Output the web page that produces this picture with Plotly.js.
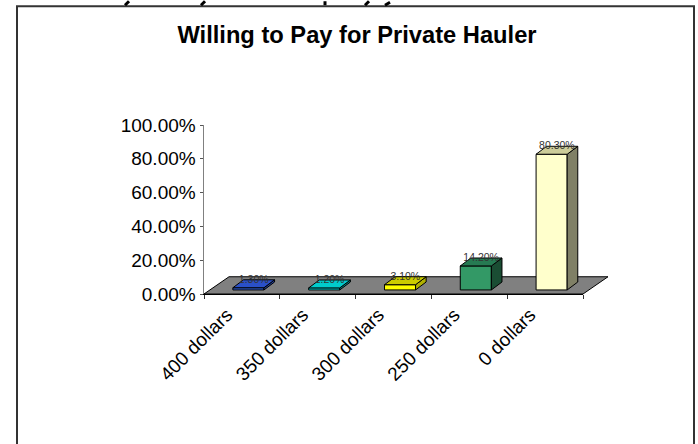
<!DOCTYPE html>
<html><head><meta charset="utf-8">
<script src="https://cdn.plot.ly/plotly-3.0.1.min.js"></script>
<style>html,body{margin:0;padding:0;background:#fff;overflow:hidden}#c{width:698px;height:444px}</style>
</head><body><div id="c"></div>
<script>
const categories = ['400 dollars','350 dollars','300 dollars','250 dollars','0 dollars'];
const values = [1.3, 1.2, 3.1, 14.2, 80.3];
const valueLabels = ['1.30%','1.20%','3.10%','14.20%','80.30%'];
const frontColors = ['#3366E6','#00FFFF','#FFFF00','#339966','#FFFFCC'];
const topColors = ['#2A50C8','#00CCCC','#CCCC00','#267A52','#CCCC99'];
const sideColors = ['#22409A','#008888','#B0B000','#1A4D33','#808066'];
const yTicks = [0,20,40,60,80,100];
const yTickText = ['0.00%','20.00%','40.00%','60.00%','80.00%','100.00%'];

const pos = categories.map((_, i) => i);
const barW = 0.41, barShift = 0.086, barBase = 2.4;
const depthX = 0.14, depthY = 4.7;
const floorDX = 0.33, floorDY = 10.2;
const line = {color:'#000', width:1};

const traces = [];
traces.push({type:'bar', x:pos, y:values, base:barBase, width:barW, offset:-barW/2+barShift,
  marker:{color:frontColors, line:{color:'#000', width:1}}, xaxis:'x', yaxis:'y', hoverinfo:'skip'});
pos.forEach((p,i)=>{
  const l=p+barShift-barW/2, r=l+barW, b=barBase, t=barBase+values[i];
  traces.push({type:'scatter', mode:'lines', fill:'toself', fillcolor:sideColors[i], line, cliponaxis:false, hoverinfo:'skip',
    x:[r,r+depthX,r+depthX,r,r], y:[b,b+depthY,t+depthY,t,b]});
  traces.push({type:'scatter', mode:'lines', fill:'toself', fillcolor:topColors[i], line, cliponaxis:false, hoverinfo:'skip',
    x:[l,r,r+depthX,l+depthX,l], y:[t,t,t+depthY,t+depthY,t]});
});
traces.push({type:'scatter', mode:'text', x:pos.map(p=>p+barShift+depthX/2), y:values.map(v=>v+barBase+depthY/2+2.2),
  text:valueLabels, textposition:'middle center', textfont:{family:'Liberation Sans, Arial, sans-serif', size:10.5, color:'#333'},
  cliponaxis:false, hoverinfo:'skip'});
traces.push({type:'scatter', mode:'none', x:pos, y:values, xaxis:'x2', yaxis:'y', hoverinfo:'skip'});

const L=204, R=583, T=124.5, B=294.5;
const px = v => (v-L)/(R-L), py = v => (B-v)/(B-T);
const mark = (x0,y0,x1,y1,w) => ({type:'line', xref:'paper', yref:'paper', x0:px(x0), y0:py(y0), x1:px(x1), y1:py(y1), line:{color:'#000', width:w}, layer:'above'});
const dxFrac = floorDX/5, dyFrac = floorDY/100;
const layout = {
  width:698, height:444, showlegend:false, paper_bgcolor:'#fff', plot_bgcolor:'rgba(0,0,0,0)',
  margin:{l:L, r:698-R, t:T, b:444-B}, barmode:'overlay',
  font:{family:'Liberation Sans, Arial, sans-serif', color:'#000', size:19},
  title:{text:'<b>Willing to Pay for Private Hauler</b>', x:357/698, xref:'container', xanchor:'center', y:1-35/444, yref:'container', yanchor:'middle',
    font:{family:'Liberation Sans, Arial, sans-serif', size:23.7, color:'#000'}},
  xaxis:{type:'linear', range:[-0.5,4.5], tickmode:'array', tickvals:[-0.5,0.5,1.5,2.5,3.5,4.5], ticktext:['','','','','',''],
    ticks:'outside', ticklen:4, tickcolor:'#333', showgrid:false, zeroline:false, showline:true, linecolor:'#000', linewidth:1},
  xaxis2:{type:'linear', overlaying:'x', side:'bottom', anchor:'y', range:[-0.5,4.5], tickmode:'array', tickvals:pos, ticktext:categories,
    tickangle:-45, ticks:'', ticklabelshift:-15, ticklabelstandoff:5, showgrid:false, zeroline:false, showline:false, tickfont:{size:19, color:'#000'}},
  yaxis:{range:[0,100], tickmode:'array', tickvals:yTicks, ticktext:yTickText, ticks:'outside', ticklen:3, tickcolor:'#555',
    showgrid:false, zeroline:false, showline:true, linecolor:'#808080', linewidth:1.5, tickfont:{size:19, color:'#000'}},
  shapes:[
    {type:'path', xref:'paper', yref:'paper', layer:'below', fillcolor:'#808080', line:{color:'#000', width:1},
     path:`M 0 0 L 1 0 L ${1+dxFrac} ${dyFrac} L ${dxFrac} ${dyFrac} Z`},
    {type:'rect', xref:'paper', yref:'paper', x0:px(17), x1:px(694), y0:py(5), y1:py(460), line:{color:'#333', width:2}, fillcolor:'rgba(0,0,0,0)', layer:'above'},
    mark(129,0,125,4,3), mark(205,0,201,4,3), mark(325,0,325,4,3), mark(369,0,365,4,3), mark(390,1,385,4,3)
  ]
};
Plotly.newPlot('c', traces, layout, {displayModeBar:false, staticPlot:true});
</script></body></html>
